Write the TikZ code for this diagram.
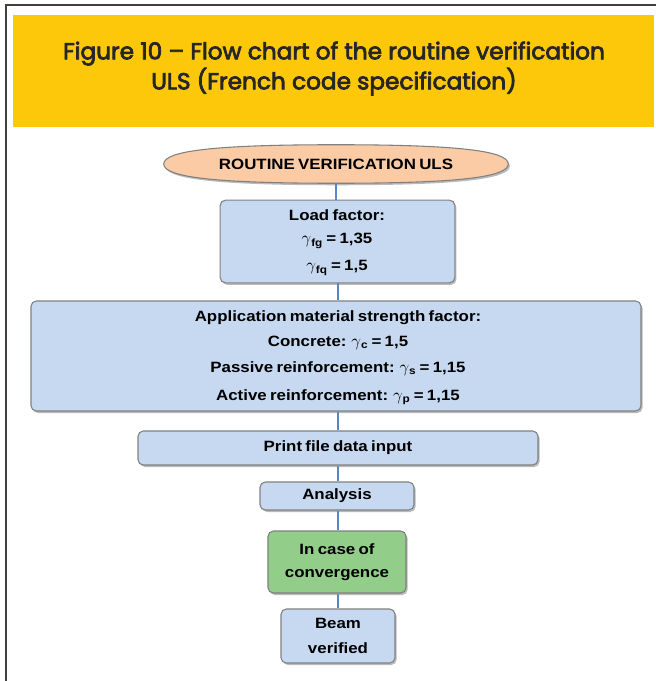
\documentclass[tikz,border=0pt]{standalone}
\usepackage{fontspec}
\setmainfont{Liberation Sans}[FakeStretch=1.13, WordSpace=0.7]
\newfontfamily\titlefont{Poppins}[FakeBold=3.2]
\usetikzlibrary{shadows}
\definecolor{bandyellow}{RGB}{254,200,10}
\definecolor{boxblue}{RGB}{198,217,241}
\definecolor{boxgreen}{RGB}{146,205,138}
\definecolor{ovalpeach}{RGB}{250,203,165}
\definecolor{linkblue}{RGB}{84,135,200}
\definecolor{rimgray}{RGB}{128,128,128}
\tikzset{
  boxfont/.style={font=\bfseries\fontsize{11.2}{13}\selectfont},
  softshadow/.style={drop shadow={shadow xshift=1.2pt, shadow yshift=-1.5pt, opacity=0.45, fill=black!60}},
  box/.style={draw=rimgray, line width=0.8pt, rounded corners=4pt, fill=boxblue,
    softshadow, boxfont, align=center, inner sep=0pt},
  link/.style={draw=linkblue, line width=1.5pt}
}
\newcommand{\gsub}[1]{\scalebox{1.15}{$\gamma$}\textsubscript{\bfseries #1}}
\begin{document}
\begin{tikzpicture}[x=0.75pt, y=-0.75pt]
  \useasboundingbox (0,0) rectangle (656,681);
  \fill[white] (0,0) rectangle (656,681);
  % outer frame (top and left rules)
  \draw[line width=1.2pt, black!75] (6,681) -- (6,5) -- (656,5);
  % title band
  \fill[bandyellow] (13,15) rectangle (654,127);
  \node[font=\titlefont\fontsize{17.4}{22.5}\selectfont, align=center, text=black!85]
    (title) at (334,68.5) {Figure 10 – Flow chart of the routine verification\\ULS (French code specification)};

  % start terminal: a squarish oval drawn round an empty frame node
  \node[minimum width=258pt, minimum height=28.5pt, inner sep=0pt] (start) at (336,164) {};
  \path[draw=rimgray, line width=0.8pt, fill=ovalpeach, softshadow]
    (start.west) .. controls ([yshift=10pt]start.west) and ([xshift=-90pt]start.north) .. (start.north)
    .. controls ([xshift=90pt]start.north) and ([yshift=10pt]start.east) .. (start.east)
    .. controls ([yshift=-10pt]start.east) and ([xshift=90pt]start.south) .. (start.south)
    .. controls ([xshift=-90pt]start.south) and ([yshift=-10pt]start.west) .. (start.west) -- cycle;
  \node[boxfont] (starttext) at (start.center) {ROUTINE VERIFICATION ULS};

  % flow nodes
  \node[box, minimum width=176pt, minimum height=62pt] (load) at (337.5,241.5) {};
  \node[box, minimum width=457.5pt, minimum height=82.5pt] (mat) at (336,356) {};
  \node[box, minimum width=300pt, minimum height=25.5pt] (print) at (338,448) {Print file data input};
  \node[box, minimum width=115.5pt, minimum height=21pt] (anal) at (337,496) {Analysis};
  \node[box, fill=boxgreen, minimum width=103.5pt, minimum height=46.5pt] (conv) at (337,562) {};
  \node[box, minimum width=85.5pt, minimum height=40.5pt] (beam) at (338,636) {};

  % box texts
  \begin{scope}[boxfont]
    \node (l1) at (337,215) {Load factor:};
    \node (l2) at (337,241) {\gsub{fg} = 1,35};
    \node (l3) at (337,268) {\gsub{fq} = 1,5};
    \node (m1) at (338,318) {Application material strength factor:};
    \node (m2) at (338,343) {Concrete: \gsub{c} = 1,5};
    \node (m3) at (338,369) {Passive reinforcement: \gsub{s} = 1,15};
    \node (m4) at (338,397) {Active reinforcement: \gsub{p} = 1,15};
    \node (c1) at (337,549) {In case of};
    \node (c2) at (337,575) {convergence};
    \node (b1) at (338,623) {Beam};
    \node (b2) at (338,648) {verified};
  \end{scope}

  % connectors
  \draw[link] (start.south) -- (load.north -| start.south);
  \draw[link] (load.south) -- (mat.north -| load.south);
  \draw[link] (mat.south -| print.north) -- (print.north);
  \draw[link] (print.south) -- (anal.north -| print.south);
  \draw[link] (anal.south -| print.south) -- (conv.north -| print.south);
  \draw[link] (conv.south -| print.south) -- (beam.north -| print.south);
\end{tikzpicture}
\end{document}
